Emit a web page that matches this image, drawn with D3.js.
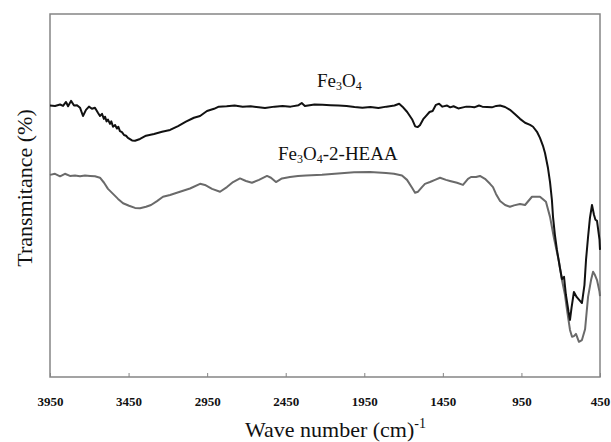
<!DOCTYPE html>
<html>
<head>
<meta charset="utf-8">
<script src="https://cdn.jsdelivr.net/npm/d3@7"></script>
<style>
  html, body { margin: 0; padding: 0; background: #fff; }
  svg { display: block; }
  text { font-family: "Liberation Serif", "Times New Roman", serif; fill: #111; }
</style>
</head>
<body>
<svg id="chart" width="611" height="442"></svg>
<script>
// ---- data ----
const xTicks = [3950, 3450, 2950, 2450, 1950, 1450, 950, 450];

const fe3o4Wn = [3950,3918,3886,3867,3848,3835,3816,3797,3778,3759,3740,3721,3702,3683,3664,3645,3632,3619,3607,3600,3590,3581,3568,3560,3549,3536,3524,3515,3505,3492,3479,3466,3454,3428,3409,3377,3339,3288,3237,3186,3135,3085,3034,2995,2951,2906,
  2876,2826,2775,2724,2673,2622,2582,2521,2470,2419,2368,2348,2328,2267,2216,2165,2114,2063,2012,1962,1911,1860,1809,1758,1728,1707,1677,1646,1626,1611,1596,1575,1555,1535,1515,1494,1474,1453,1423,1403,1382,1352,1321,1301,1281,1250,1220,1199,1169,1138,1110,
  1086,1054,1023,994,959,927,895,876,851,832,813,800,781,768,756,749,737,724,705,692,679,667,650,641,631,616,599,577,565,549,539,526,514,501,488,479,469,453,450];
const fe3o4T = [75.3,75.2,75.6,75.2,76.3,75.1,76.6,75.3,75.4,74.7,72.4,74.1,75.0,74.4,74.7,73.3,72.4,73.0,71.6,72.2,70.9,71.4,70.2,70.9,69.4,69.9,68.9,69.4,68.2,67.9,67.1,66.9,66.3,65.6,65.5,66.0,66.9,67.4,68.0,68.5,69.6,70.8,71.9,72.4,73.8,74.4,
  75.0,75.1,75.3,75.0,75.1,74.8,74.6,75.0,75.2,75.0,75.4,76.0,75.2,75.6,75.5,75.4,75.3,75.2,74.9,74.7,74.9,74.6,75.0,75.3,75.8,75.0,73.5,71.5,69.5,69.3,69.8,71.5,72.5,73.5,73.8,75.5,75.8,75.0,75.3,74.8,75.1,74.5,74.8,75.0,75.0,74.8,75.3,75.0,74.9,74.8,75.2,
  75.3,74.9,74.1,73.0,71.6,70.5,69.9,69.4,68.0,66.3,64.1,62.1,57.9,54.0,49.0,44.3,39.3,35.1,30.1,27.0,27.6,22.6,17.8,15.6,19.0,23.4,22.0,20.9,20.3,25.3,32.3,38.7,44.0,47.6,44.8,43.5,43.2,37.9,35.1];

const heaaWn = [3950,3918,3886,3855,3823,3791,3759,3727,3695,3664,3632,3606,3581,3549,3517,3485,3447,3409,3377,3339,3307,3269,3231,3186,3123,3059,2995,2964,2919,2868,2824,2785,2741,2703,2665,2620,2569,2544,2512,2474,2423,2372,2321,2219,2117,2015,1914,1812,1761,1710,1678,1646,1627,1608,1583,1564,1532,1500,1468,1430,1405,1360,1322,1290,1271,1239,1214,1182,1150,1131,1112,1086,1054,1023,997,959,927,883,832,794,768,743,711,692,673,660,641,628,616,603,584,565,545,526,507,494,482,469,453,450];
const heaaT = [56.0,56.3,55.6,56.3,55.7,55.8,55.6,55.8,55.7,55.6,55.2,53.8,52.1,50.7,49.3,48.1,47.4,46.8,46.7,47.1,47.6,48.7,49.9,50.4,51.3,52.2,53.5,53.2,52.1,51.3,52.6,54.0,55.0,54.3,53.8,54.6,55.7,55.2,54.0,55.0,55.4,55.7,55.8,56.0,56.4,56.7,56.8,56.5,56.3,55.8,54.6,52.4,51.0,51.3,52.6,53.5,54.0,54.6,55.2,54.6,54.3,53.8,53.2,54.9,55.4,55.4,55.7,54.9,53.5,52.6,50.7,48.7,47.6,47.1,47.5,47.9,47.6,49.9,49.9,48.5,44.3,38.4,31.8,26.7,22.6,18.4,12.8,10.9,11.1,11.7,9.5,10.0,13.0,22.0,26.7,29.0,28.1,26.7,23.4,22.2];

// ---- layout ----
const svg = d3.select("#chart");
const mLeft = 50, mRight = 600, mTop = 14, mBottom = 377;

const x = d3.scaleLinear().domain([3950, 450]).range([mLeft, mRight]);
const y = d3.scaleLinear().domain([-0.3, 100.8]).range([mBottom, mTop]);

// frame
svg.append("rect")
  .attr("x", mLeft).attr("y", mTop)
  .attr("width", mRight - mLeft).attr("height", mBottom - mTop)
  .attr("fill", "none").attr("stroke", "#858585").attr("stroke-width", 1.5);

// x axis
const xAxis = d3.axisBottom(x)
  .tickValues(xTicks)
  .tickFormat(d3.format("d"))
  .tickSizeInner(-4)
  .tickSizeOuter(0)
  .tickPadding(20);

const gx = svg.append("g").attr("transform", `translate(0,${mBottom})`).call(xAxis);
gx.select(".domain").remove();
gx.selectAll(".tick line").attr("stroke", "#858585").attr("stroke-width", 1);
gx.selectAll(".tick text")
  .style("font-family", '"Liberation Serif", "Times New Roman", serif')
  .style("font-size", "13px")
  .style("font-weight", "bold")
  .attr("fill", "#111");

// lines
const line = d3.line().x(d => x(d[0])).y(d => y(d[1]));
const heaa = heaaWn.map((w, i) => [w, heaaT[i]]);
const fe = fe3o4Wn.map((w, i) => [w, fe3o4T[i]]);

svg.append("path").datum(heaa)
  .attr("d", line).attr("fill", "none")
  .attr("stroke", "#6a6a6a").attr("stroke-width", 2).attr("stroke-linejoin", "round");
svg.append("path").datum(fe)
  .attr("d", line).attr("fill", "none")
  .attr("stroke", "#111").attr("stroke-width", 2).attr("stroke-linejoin", "round");

// series labels
function chemLabel(xPos, yPos, parts) {
  const t = svg.append("text").attr("x", xPos).attr("y", yPos).style("font-size", "19px");
  parts.forEach(p => {
    if (p.sub) {
      t.append("tspan").attr("dy", 3).style("font-size", "12px").text(p.t);
    } else {
      t.append("tspan").attr("dy", p.back ? -3 : 0).text(p.t);
    }
  });
  return t;
}
chemLabel(317, 87, [{t: "Fe"}, {t: "3", sub: true}, {t: "O", back: true}, {t: "4", sub: true}]);
chemLabel(278, 160, [{t: "Fe"}, {t: "3", sub: true}, {t: "O", back: true}, {t: "4", sub: true}, {t: "-2-HEAA", back: true}]);

// axis titles
const xt = svg.append("text").attr("x", 245).attr("y", 437).style("font-size", "22px");
xt.append("tspan").text("Wave number (cm)");
xt.append("tspan").attr("dy", -9).style("font-size", "14px").text("-1");

svg.append("text")
  .attr("transform", "translate(32,188) rotate(-90)")
  .attr("text-anchor", "middle")
  .style("font-size", "22px")
  .text("Transmitance (%)");
</script>
</body>
</html>
